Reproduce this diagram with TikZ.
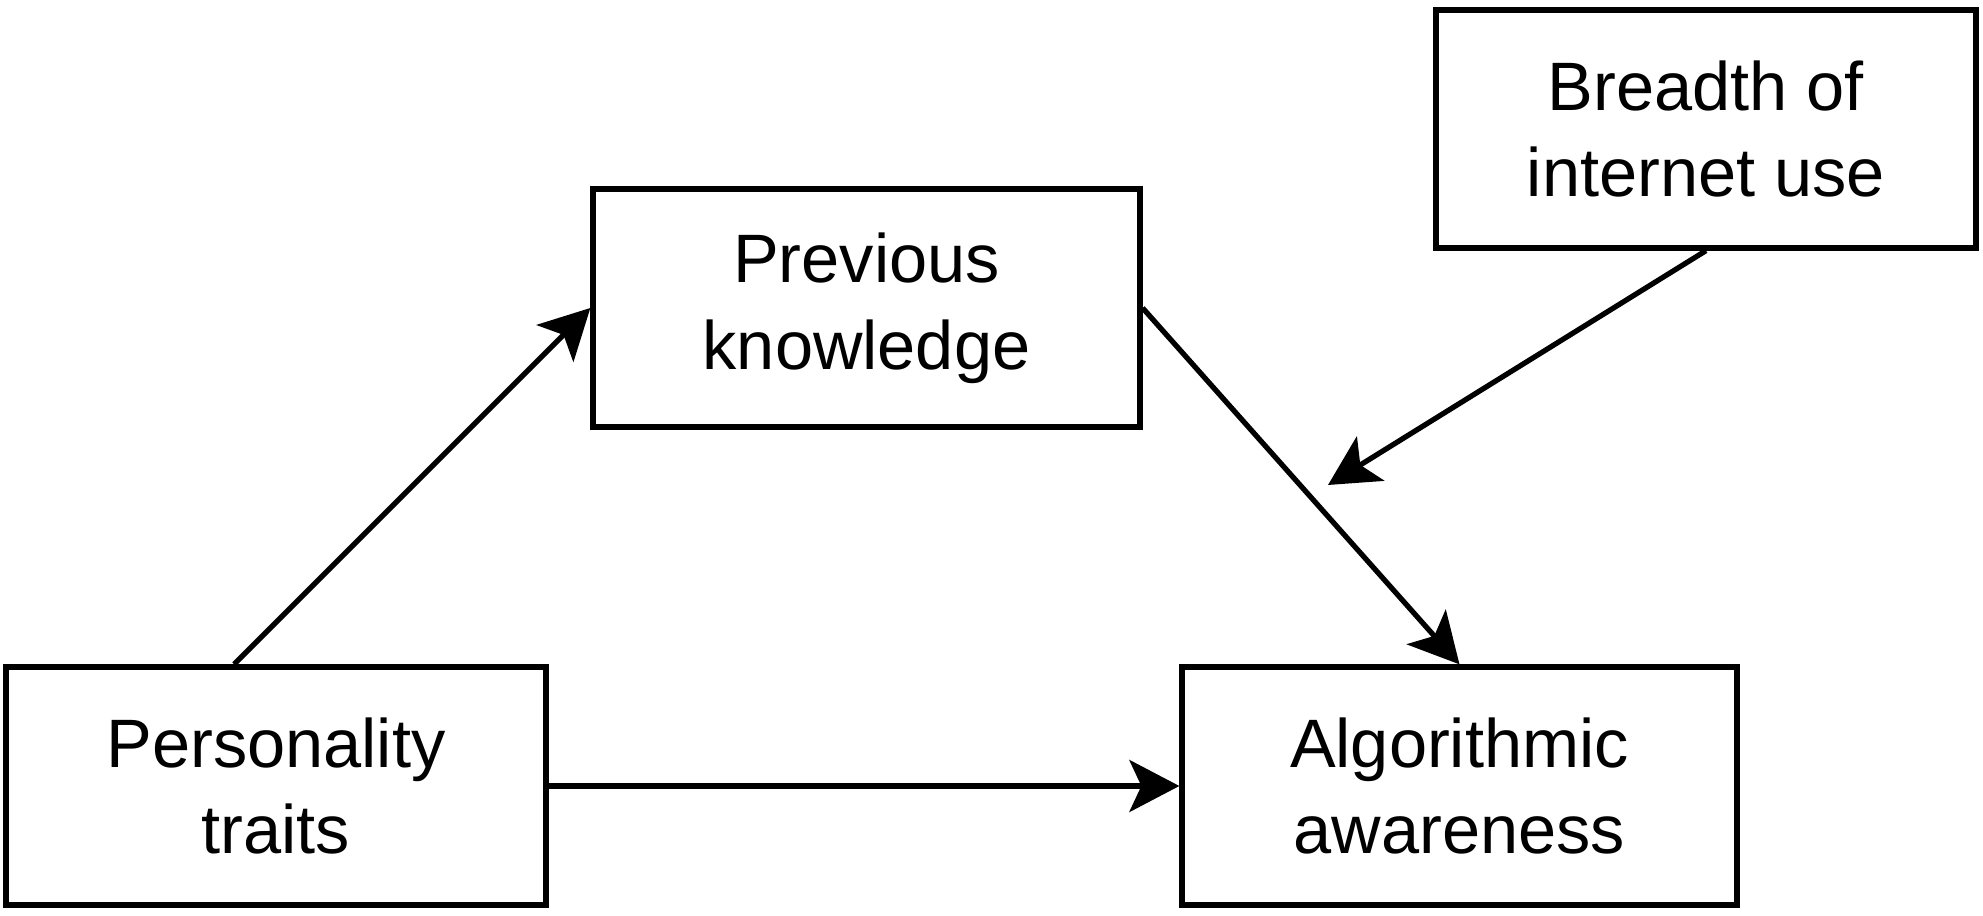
\documentclass[tikz,border=0pt]{standalone}
\usepackage{fontspec}
\setmainfont{Liberation Sans}
\usetikzlibrary{arrows.meta}

\begin{document}
\begin{tikzpicture}
        \tikzset{box/.style = {shape=rectangle,draw,line width=1.5pt,minimum width=5.4cm,minimum height=2.38cm,align=center,font=\fontsize{19.5}{24.7}\selectfont}}
        \tikzset{edge/.style = {line width=1.5pt,-{Stealth[length=5mm,width=5.2mm,inset=1.2mm]}}}
        \useasboundingbox (0,0) rectangle (19.83,9.15);
        \node[box] (pt) at (2.76,1.29) {Personality\\traits};
        \node[box,minimum width=5.55cm] (aa) at (14.595,1.29) {Algorithmic\\awareness};
        \node[box,minimum width=5.47cm] (pk) at (8.665,6.07) {Previous\\knowledge};
        \node[box] (bi) at (17.06,7.86) {Breadth of\\internet use};
        \coordinate (mod) at (13.28,4.30);
        \draw[edge] (pt.109) -- (pk.west);
        \draw[edge] (pk.east) -- (aa.north);
        \draw[edge] (pt.east) -- (aa.west);
        \draw[edge] (bi.south) -- (mod);
    \end{tikzpicture}
\end{document}
